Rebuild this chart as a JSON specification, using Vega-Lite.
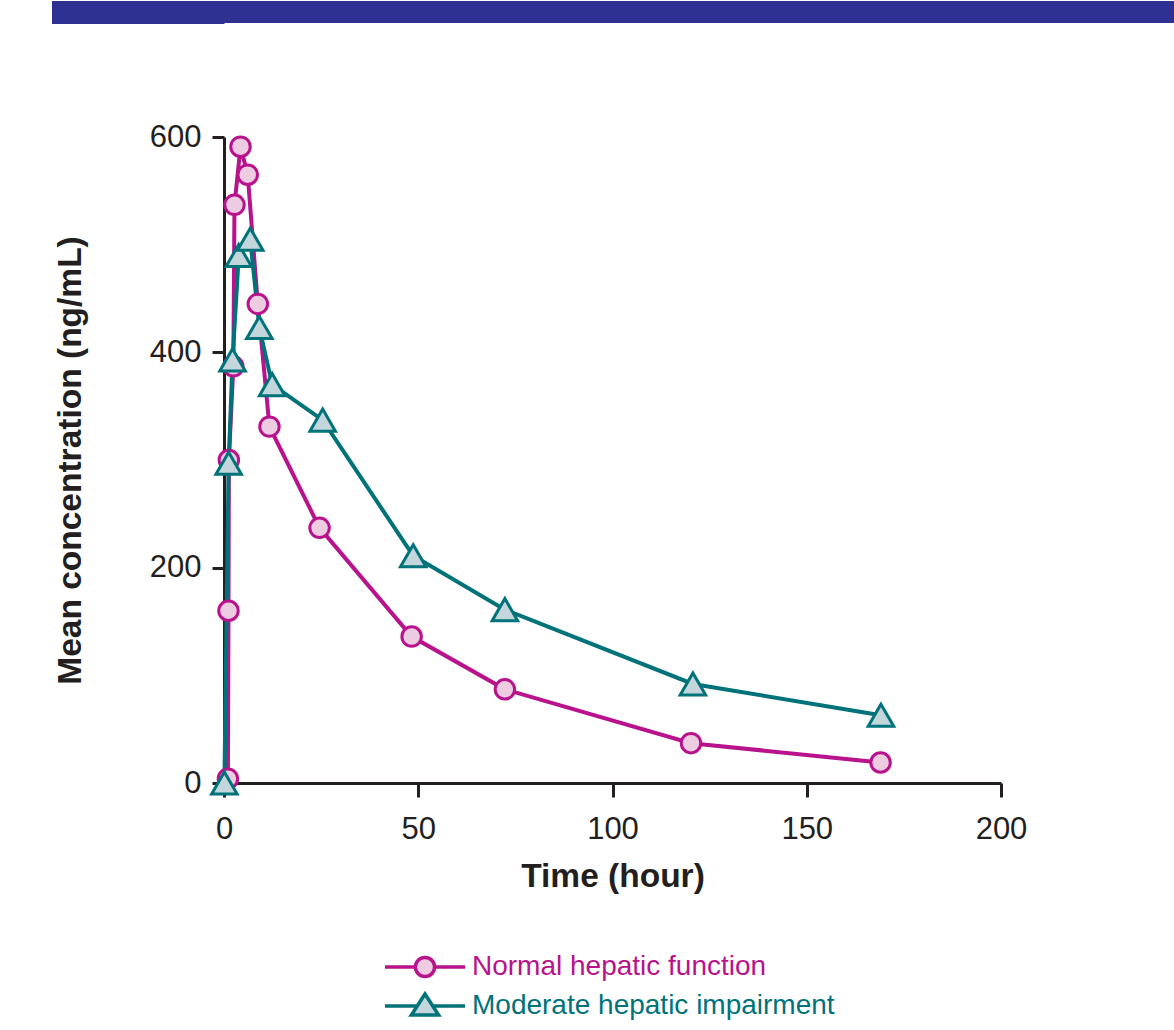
{
  "$schema": "https://vega.github.io/schema/vega-lite/v6.json",
  "padding": {"left": 40, "top": 0, "right": 0, "bottom": 0},
  "background": "white",
  "config": {"font": "Liberation Sans", "view": {"stroke": null}},
  "spacing": 97,
  "vconcat": [
    {
      "width": 951,
      "height": 22,
      "view": {"fill": "#2e3192", "stroke": null},
      "data": {"values": []},
      "mark": "point",
      "encoding": {
        "y": {
          "field": "v", "type": "quantitative",
          "scale": {"domain": [0, 1], "nice": false},
          "axis": {
            "title": null, "values": [0.5], "labels": false, "domain": false, "grid": false,
            "ticks": true, "tickSize": 172.5, "tickWidth": 23, "tickColor": "#2e3192", "tickCap": "butt", "tickOpacity": 1
          }
        }
      }
    },
    {
      "width": 777,
      "height": 646,
      "data": {
        "values": [
          {"group": "Normal hepatic function", "time": 1.0, "conc": 4},
          {"group": "Normal hepatic function", "time": 1.15, "conc": 160},
          {"group": "Normal hepatic function", "time": 1.25, "conc": 300},
          {"group": "Normal hepatic function", "time": 2.4, "conc": 387},
          {"group": "Normal hepatic function", "time": 2.7, "conc": 537},
          {"group": "Normal hepatic function", "time": 4.25, "conc": 591},
          {"group": "Normal hepatic function", "time": 6.1, "conc": 565},
          {"group": "Normal hepatic function", "time": 8.7, "conc": 445},
          {"group": "Normal hepatic function", "time": 11.7, "conc": 331},
          {"group": "Normal hepatic function", "time": 24.6, "conc": 237},
          {"group": "Normal hepatic function", "time": 48.3, "conc": 136},
          {"group": "Normal hepatic function", "time": 72.3, "conc": 87},
          {"group": "Normal hepatic function", "time": 120.2, "conc": 37},
          {"group": "Normal hepatic function", "time": 169.0, "conc": 19},
          {"group": "Moderate hepatic impairment", "time": 0.1, "conc": 0},
          {"group": "Moderate hepatic impairment", "time": 1.2, "conc": 297},
          {"group": "Moderate hepatic impairment", "time": 2.2, "conc": 393},
          {"group": "Moderate hepatic impairment", "time": 3.8, "conc": 490},
          {"group": "Moderate hepatic impairment", "time": 6.75, "conc": 505},
          {"group": "Moderate hepatic impairment", "time": 9.1, "conc": 423},
          {"group": "Moderate hepatic impairment", "time": 12.4, "conc": 370},
          {"group": "Moderate hepatic impairment", "time": 25.4, "conc": 337},
          {"group": "Moderate hepatic impairment", "time": 48.7, "conc": 211},
          {"group": "Moderate hepatic impairment", "time": 72.3, "conc": 161},
          {"group": "Moderate hepatic impairment", "time": 120.7, "conc": 92},
          {"group": "Moderate hepatic impairment", "time": 169.1, "conc": 63}
        ]
      },
      "encoding": {
        "x": {
          "field": "time", "type": "quantitative",
          "scale": {"domain": [0, 200], "nice": false, "zero": false},
          "axis": {
            "values": [0, 50, 100, 150, 200],
            "title": "Time (hour)",
            "grid": false,
            "domainWidth": 3, "domainColor": "#231f20",
            "tickColor": "#231f20", "tickWidth": 3, "tickSize": 14,
            "labelFontSize": 31, "labelColor": "#231f20", "labelPadding": 17,
            "labelFlush": false,
            "titleFontSize": 33.5, "titleFontWeight": "bold", "titleColor": "#231f20",
            "titlePadding": 16
          }
        },
        "y": {
          "field": "conc", "type": "quantitative",
          "scale": {"domain": [0, 600], "nice": false},
          "axis": {
            "values": [0, 200, 400, 600],
            "title": "Mean concentration (ng/mL)",
            "grid": false,
            "domainWidth": 3, "domainColor": "#231f20",
            "tickColor": "#231f20", "tickWidth": 3, "tickSize": 12,
            "labelFontSize": 31, "labelColor": "#231f20", "labelPadding": 11,
            "labelFlush": false,
            "titleFontSize": 33.5, "titleFontWeight": "bold", "titleColor": "#231f20",
            "titlePadding": 62
          }
        }
      },
      "layer": [
        {
          "mark": {"type": "line", "strokeWidth": 4},
          "encoding": {
            "color": {
              "field": "group", "type": "nominal",
              "scale": {"domain": ["Normal hepatic function", "Moderate hepatic impairment"], "range": ["#b8128c", "#00727a"]},
              "legend": {
                "orient": "none",
                "legendX": 179,
                "legendY": 944,
                "direction": "vertical",
                "title": null,
                "padding": 0,
                "rowPadding": 0,
                "symbolSize": 1600,
                "symbolStrokeWidth": 3.5,
                "labelFontSize": 28,
                "labelOffset": 25,
                "labelLimit": 600,
                "encode": {
                  "symbols": {
                    "update": {
                      "shape": {"signal": "datum.value === 'Normal hepatic function' ? 'M-2,0L-0.48,0A0.48,0.48,0,0,1,0.48,0A0.48,0.48,0,0,1,-0.48,0A0.48,0.48,0,0,1,0.48,0L2,0' : 'M-2,0L-0.39,0L0,-0.6L0.68,0.45L-0.68,0.45L0,-0.6L0.39,0L2,0'"},
                      "fill": {"signal": "datum.value === 'Normal hepatic function' ? '#edcce1' : '#c2d6db'"},
                      "fillOpacity": {"value": 1},
                      "opacity": {"value": 1}
                    }
                  },
                  "labels": {
                    "update": {
                      "fill": {"signal": "datum.value === 'Normal hepatic function' ? '#b8128c' : '#00727a'"}
                    }
                  }
                }
              }
            }
          }
        },
        {
          "transform": [{"filter": "datum.group === 'Normal hepatic function'"}],
          "mark": {"type": "point", "shape": "circle", "size": 380, "filled": true, "fill": "#edcce1", "stroke": "#b8128c", "strokeWidth": 3, "opacity": 1}
        },
        {
          "transform": [{"filter": "datum.group === 'Moderate hepatic impairment'"}],
          "mark": {"type": "point", "shape": "triangle-up", "size": 650, "filled": true, "fill": "#c2d6db", "stroke": "#00727a", "strokeWidth": 3, "opacity": 1}
        }
      ]
    }
  ]
}
